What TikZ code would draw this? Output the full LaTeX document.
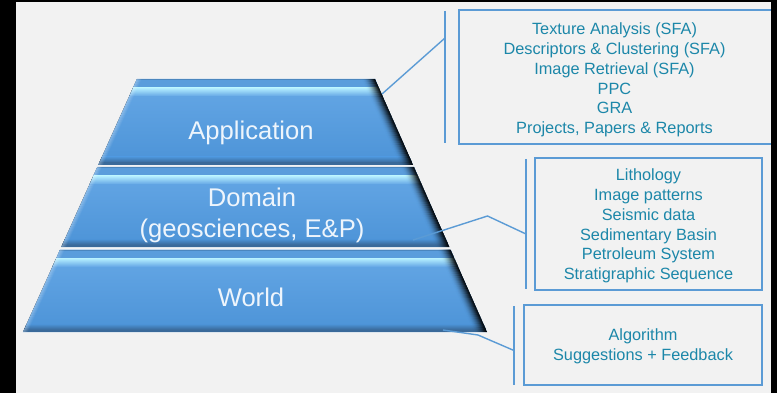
\documentclass[tikz,border=0pt]{standalone}
\usepackage{fontspec}
\setmainfont{Liberation Sans}
\usetikzlibrary{calc}

\definecolor{pagebg}{HTML}{F2F2F2}
\definecolor{tierTop}{HTML}{66A8E6}
\definecolor{tierBot}{HTML}{4C93D7}
\definecolor{tierHi}{HTML}{B4EEFF}
\definecolor{tierBand}{HTML}{5A9DDC}
\definecolor{tierEdge}{HTML}{3A6A9A}
\definecolor{linkBlue}{HTML}{5B9BD5}
\definecolor{noteText}{HTML}{1C87A9}
\definecolor{tierText}{HTML}{EEF5FC}

\tikzset{
  tierlabel/.style={text=tierText, font=\fontsize{25.6}{30.6}\selectfont, inner sep=0pt, align=center},
  notebox/.style={draw=linkBlue, line width=1.5pt, inner sep=0pt},
  notetext/.style={text=noteText, align=center, font=\fontsize{16.3}{19.8}\selectfont, inner sep=0pt},
  link/.style={draw=linkBlue, line width=1.4pt},
}

% one bevelled slice of the pyramid, between heights #2 and #3
\newcommand\pyrtier[3]{%
  \pgfmathsetmacro\tyA{#2}%
  \pgfmathsetmacro\tyB{#3}%
  \pgfmathsetmacro\xlA{137-0.4506*(#2-79)}%
  \pgfmathsetmacro\xrA{375+0.4427*(#2-79)}%
  \pgfmathsetmacro\xlB{137-0.4506*(#3-79)}%
  \pgfmathsetmacro\xrB{375+0.4427*(#3-79)}%
  \coordinate (#1-tl) at (\xlA,\tyA);
  \coordinate (#1-tr) at (\xrA,\tyA);
  \coordinate (#1-br) at (\xrB,\tyB);
  \coordinate (#1-bl) at (\xlB,\tyB);
  \begin{scope}
    \clip (#1-tl) -- (#1-tr) -- (#1-br) -- (#1-bl) -- cycle;
    \fill[top color=tierTop, bottom color=tierBot] (\xlB,\tyA) rectangle (\xrB,\tyB);
    % top bevel with its bright rim
    \fill[tierBand] (\xlB,\tyA) rectangle (\xrB,\tyA+9);
    \fill[tierEdge!45!tierBand] (\xlB,\tyA) rectangle (\xrB,\tyA+1.2);
    \fill[top color=tierHi, bottom color=tierTop] (\xlB,\tyA+9) rectangle (\xrB,\tyA+17);
    % dark lower edge
    \fill[top color=tierBot, bottom color=tierEdge] (\xlB,\tyB-8) rectangle (\xrB,\tyB-2.5);
    \fill[tierEdge] (\xlB,\tyB-2.5) rectangle (\xrB,\tyB);
    % light left bevel
    \foreach \i in {0,...,4} {
      \pgfmathsetmacro\op{0.22*(1-\i/5)}
      \draw[white, opacity=\op, line width=1.2pt] (\xlA+\i,\tyA) -- (\xlB+\i,\tyB);
    }
    % shadowed right bevel
    \foreach \i in {0,...,13} {
      \pgfmathsetmacro\op{0.95*(1-\i/14)^2.2}
      \draw[black, opacity=\op, line width=1.2pt] (\xrA-\i,\tyA) -- (\xrB-\i,\tyB);
    }
  \end{scope}
}

\begin{document}
\begin{tikzpicture}[x=1pt, y=-1pt]
  \useasboundingbox (0,0) rectangle (777,393);
  \fill[pagebg] (0,0) rectangle (777,393);

  % pyramid
  \pyrtier{app}{79}{165}
  \pyrtier{dom}{167}{247}
  \pyrtier{wld}{249.5}{332}

  \node[tierlabel, anchor=base] (lapp) at (251,139.5) {Application};
  \node[tierlabel] (ldom) at (252,215.2) {Domain\\(geosciences, E\&P)};
  \node[tierlabel, anchor=base] (lwld) at (251,306) {World};

  % notes
  \node[notebox, minimum width=313pt, minimum height=134pt] (box1) at (615.5,77) {};
  \node[notetext, yshift=-3pt] (note1) at ($(box1.center)+(-1,0)$)
    {Texture Analysis (SFA)\\Descriptors \& Clustering (SFA)\\Image Retrieval (SFA)\\PPC\\GRA\\Projects, Papers \& Reports};
  \node[notebox, minimum width=227pt, minimum height=132pt] (box2) at (648.5,224) {};
  \node[notetext, yshift=-2pt] (note2) at (box2.center)
    {Lithology\\Image patterns\\Seismic data\\Sedimentary Basin\\Petroleum System\\Stratigraphic Sequence};
  \node[notebox, minimum width=238pt, minimum height=80pt] (box3) at (643,345) {};
  \node[notetext, yshift=-1.5pt] (note3) at (box3.center)
    {Algorithm\\Suggestions + Feedback};

  % brackets and leaders
  \coordinate (k1t) at (445,11);  \coordinate (k1b) at (445,143);
  \coordinate (k2t) at (526,159); \coordinate (k2b) at (526,289);
  \coordinate (k3t) at (514,306); \coordinate (k3b) at (514,385);
  \coordinate (s1) at (382,94);   \coordinate (e1) at (445,38);
  \coordinate (s2) at (413,240);  \coordinate (m2) at (487.5,216); \coordinate (e2) at (526,234);
  \coordinate (s3) at (443,330);  \coordinate (m3) at (478,335);   \coordinate (e3) at (514,350.5);

  \draw[link] (k1t) -- (k1b);
  \draw[link] (k2t) -- (k2b);
  \draw[link] (k3t) -- (k3b);
  \draw[link] (s1) -- (e1);
  \draw[link] (s2) -- (m2) -- (e2);
  \draw[link] (s3) -- (m3) -- (e3);

  % frame
  \fill[black] (0,0) rectangle (16,393);
  \fill[black] (0,0) rectangle (777,2.5);
  \fill[black] (771,0) rectangle (777,393);
\end{tikzpicture}
\end{document}
